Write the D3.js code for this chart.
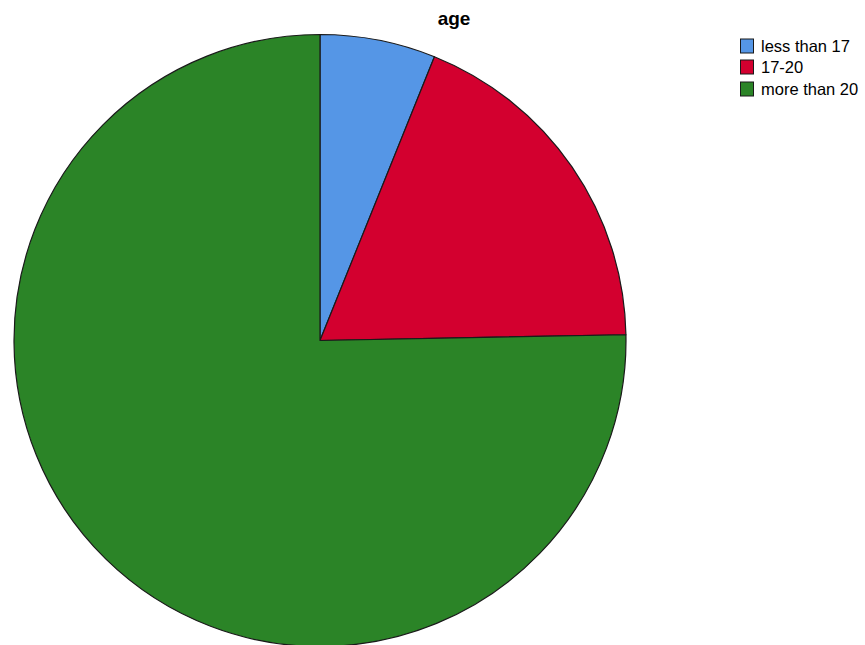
<!DOCTYPE html>
<html><head><meta charset="utf-8">
<script src="https://cdn.jsdelivr.net/npm/d3@7"></script>
<style>body{margin:0;background:#fff}svg{display:block}</style>
</head><body>
<svg id="chart" width="865" height="645"></svg>
<script>
const categories = ["less than 17", "17-20", "more than 20"];
const values = [6.1, 18.6, 75.3];
const colors = ["#5596E6", "#D3002F", "#2B8427"];
const title = "age";

const svg = d3.select("#chart");
const cx = 320, cy = 340.5, r = 306;

svg.append("text").attr("x", 454).attr("y", 25).attr("text-anchor", "middle")
  .attr("font-family", "Liberation Sans, Arial, sans-serif").attr("font-weight", "bold")
  .attr("font-size", 19).attr("fill", "#000").text(title);

const pie = d3.pie().sort(null).value(d => d)(values);
const arc = d3.arc().innerRadius(0).outerRadius(r);
const g = svg.append("g").attr("transform", `translate(${cx},${cy})`);
g.selectAll("path").data(pie).join("path")
  .attr("d", arc).attr("fill", (d, i) => colors[i])
  .attr("stroke", "#1a1a1a").attr("stroke-width", 1.2).attr("stroke-linejoin", "round");

const lg = svg.append("g");
const rowY = [39, 60, 82];
categories.forEach((c, i) => {
  lg.append("rect").attr("x", 740.5).attr("y", rowY[i]).attr("width", 13).attr("height", 14)
    .attr("fill", colors[i]).attr("stroke", "#1a1a1a").attr("stroke-width", 1);
  lg.append("text").attr("x", 761).attr("y", rowY[i] + 13)
    .attr("font-family", "Liberation Sans, Arial, sans-serif").attr("font-size", 16.5)
    .attr("fill", "#000").text(c);
});
</script>
</body></html>
